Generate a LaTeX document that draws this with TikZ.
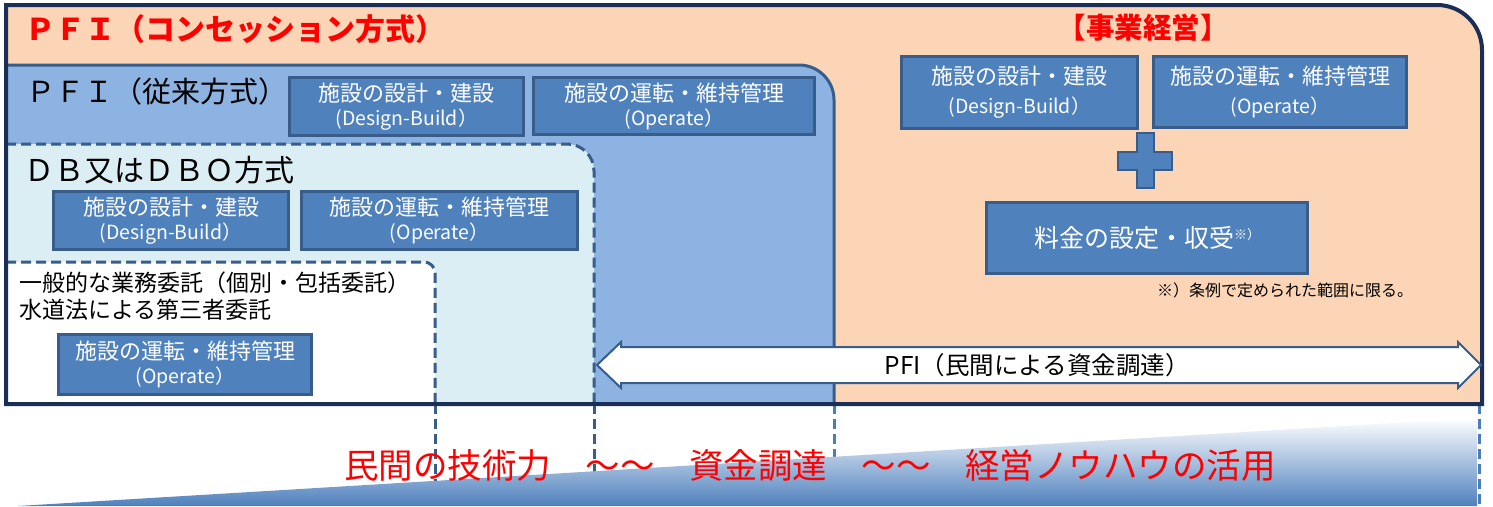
\documentclass[tikz,border=0pt]{standalone}
\usepackage{fontspec}
\setmainfont{Noto Sans CJK JP}
\definecolor{peach}{HTML}{FBD5B5}
\definecolor{navy}{HTML}{1A2E56}
\definecolor{pfiblue}{HTML}{8DB3E2}
\definecolor{dbblue}{HTML}{DBEEF4}
\definecolor{boxblue}{HTML}{4F81BD}
\definecolor{edgeblue}{HTML}{385D8A}
\definecolor{guideblue}{HTML}{4A7EBB}
\tikzset{
  taskbox/.style={draw=edgeblue, fill=boxblue, line width=3pt, text=white, align=center,
    inner sep=0pt, anchor=north west, font=\fontsize{22}{24}\selectfont},
  tallbox/.style={taskbox, font=\fontsize{22}{29}\selectfont},
  dashedge/.style={draw=edgeblue, line width=3pt, dash pattern=on 10pt off 5pt},
  guide/.style={line width=3pt, dash pattern=on 10pt off 5pt},
  heading/.style={anchor=west, inner sep=0pt, text=black},
  redtitle/.style={inner sep=0pt, text=red, font=\bfseries\fontsize{30}{30}\selectfont}
}
\newcommand{\subline}[1]{{\fontsize{19.5}{24}\selectfont #1}}
\begin{document}
\begin{tikzpicture}[x=1pt,y=-1pt]
\useasboundingbox (0,0) rectangle (1493,506);
\fill[white] (0,0) rectangle (1493,506);
% guide lines below frame
\draw[guide, edgeblue] (435,404) -- (435,506);
\draw[guide, edgeblue] (594,404) -- (594,506);
\draw[guide, guideblue] (834,404) -- (834,506);
% gradient wedge
\shade[top color=white, bottom color=boxblue] (18,506) -- (1477,418) -- (1477,506) -- cycle;
\draw[guide, guideblue] (1479,404) -- (1479,506);
% outer frame fill
\fill[peach] (6,404) -- (6,5) -- (1437,5) arc[start angle=-90,end angle=0,radius=45] -- (1482,404) -- cycle;
% PFI conventional container
\path[fill=pfiblue, draw=edgeblue, line width=3pt] (6,404) -- (6,65) -- (799,65) arc[start angle=-90,end angle=0,radius=35] -- (834,404) -- cycle;
% DB container
\fill[dbblue] (6,404) -- (6,144) -- (567,144) arc[start angle=-90,end angle=0,radius=27] -- (594,404) -- cycle;
\path[dashedge] (6,144) -- (567,144) arc[start angle=-90,end angle=0,radius=27] -- (594,404);
% commission container
\fill[white] (6,404) -- (6,262) -- (424,262) arc[start angle=-90,end angle=0,radius=11] -- (435,404) -- cycle;
\path[dashedge] (6,262) -- (424,262) arc[start angle=-90,end angle=0,radius=11] -- (435,404);
% frame border
\draw[navy, line width=4pt] (6,404) -- (6,5) -- (1437,5) arc[start angle=-90,end angle=0,radius=45] -- (1482,404) -- cycle;

% headings
\node[redtitle, anchor=west] (title) at (25,29) {ＰＦＩ（コンセッション方式）};
\node[redtitle, font=\bfseries\fontsize{28.5}{28.5}\selectfont] (mgmt) at (1143,28) {【事業経営】};
\node[heading, font=\fontsize{29}{29}\selectfont] (pfihead) at (26,91) {ＰＦＩ（従来方式）};
\node[heading, font=\fontsize{30}{30}\selectfont] (dbhead) at (24,170) {ＤＢ又はＤＢＯ方式};
\node[heading, font=\fontsize{23}{23}\selectfont] (comm1) at (19,283) {一般的な業務委託（個別・包括委託）};
\node[heading, font=\fontsize{23}{23}\selectfont] (comm2) at (19,310) {水道法による第三者委託};

% task boxes
\node[taskbox, minimum width=234pt, minimum height=58pt] (pdb) at (288,76) {施設の設計・建設\\\subline{(Design-Build）}};
\node[taskbox, minimum width=281pt, minimum height=57pt] (pop) at (532,76) {施設の運転・維持管理\\\subline{(Operate）}};
\node[taskbox, minimum width=235pt, minimum height=58pt] (ddb) at (52,190) {施設の設計・建設\\\subline{(Design-Build）}};
\node[taskbox, minimum width=276pt, minimum height=58pt] (dop) at (300,190) {施設の運転・維持管理\\\subline{(Operate）}};
\node[taskbox, minimum width=253pt, minimum height=60pt] (cop) at (57,333) {施設の運転・維持管理\\\subline{(Operate）}};
\node[tallbox, minimum width=236pt, minimum height=72pt] (rdb) at (900,55) {施設の設計・建設\\\subline{(Design-Build）}};
\node[tallbox, minimum width=253pt, minimum height=71pt] (rop) at (1152,55) {施設の運転・維持管理\\\subline{(Operate）}};
\node[taskbox, minimum width=321pt, minimum height=71pt, font=\fontsize{25}{25}\selectfont] (fee) at (985,201) {料金の設定・収受\raisebox{8pt}{\fontsize{13}{13}\selectfont ※）}};

% plus sign
\path[fill=boxblue, draw=edgeblue, line width=2.5pt] (1137,133) -- (1154,133) -- (1154,152) -- (1172,152) -- (1172,170) -- (1154,170) -- (1154,188) -- (1137,188) -- (1137,170) -- (1118,170) -- (1118,152) -- (1137,152) -- cycle;

% note
\node[heading, font=\fontsize{16}{16}\selectfont] (note) at (1157,290) {※）条例で定められた範囲に限る。};

% PFI funding arrow
\path[fill=white, draw=edgeblue, line width=2pt] (597,365) -- (621,342) -- (621,347) -- (1458,347) -- (1458,342) -- (1481,365) -- (1458,388) -- (1458,383) -- (621,383) -- (621,388) -- cycle;
\node[inner sep=0pt, font=\fontsize{24.5}{24.5}\selectfont] (fund) at (1037,365) {PFI（民間による資金調達）};

% bottom caption
\node[inner sep=0pt, text=red, font=\fontsize{34.5}{34.5}\selectfont] (caption) at (810,465) {民間の技術力　～～　資金調達　～～　経営ノウハウの活用};
\end{tikzpicture}
\end{document}
